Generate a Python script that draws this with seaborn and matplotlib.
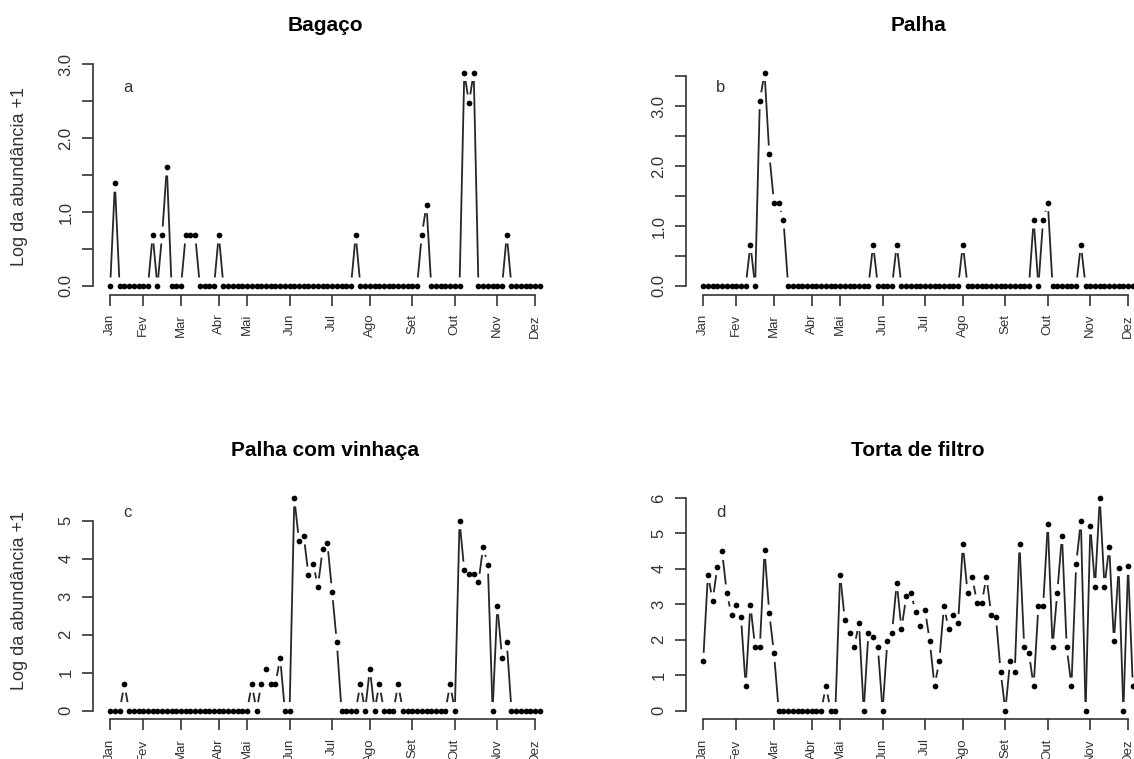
import numpy as np
import matplotlib
matplotlib.use("Agg")
import matplotlib.pyplot as plt
import seaborn as sns
from matplotlib.collections import LineCollection

# ---------------- data ----------------
months = ["Jan", "Fev", "Mar", "Abr", "Mai", "Jun", "Jul", "Ago", "Set", "Out", "Nov", "Dez"]
month_idx = [1, 8, 16, 24, 30, 39, 48, 56, 65, 74, 83, 91]

titles = ["Bagaço", "Palha", "Palha com vinhaça", "Torta de filtro"]
panel_letters = ["a", "b", "c", "d"]
ylabel = "Log da abundância +1"

bagaco = [0, 1.39, 0, 0, 0, 0, 0, 0, 0, 0.69,
          0, 0.69, 1.61, 0, 0, 0, 0.69, 0.69, 0.69, 0,
          0, 0, 0, 0.69, 0, 0, 0, 0, 0, 0,
          0, 0, 0, 0, 0, 0, 0, 0, 0, 0,
          0, 0, 0, 0, 0, 0, 0, 0, 0, 0,
          0, 0, 0.69, 0, 0, 0, 0, 0, 0, 0,
          0, 0, 0, 0, 0, 0, 0.69, 1.10, 0, 0,
          0, 0, 0, 0, 0, 2.89, 2.48, 2.89, 0, 0,
          0, 0, 0, 0, 0.69, 0, 0, 0, 0, 0,
          0, 0]

palha = [0, 0, 0, 0, 0, 0, 0, 0, 0, 0,
         0.69, 0, 3.09, 3.56, 2.20, 1.39, 1.39, 1.10, 0, 0,
         0, 0, 0, 0, 0, 0, 0, 0, 0, 0,
         0, 0, 0, 0, 0, 0, 0.69, 0, 0, 0,
         0, 0.69, 0, 0, 0, 0, 0, 0, 0, 0,
         0, 0, 0, 0, 0, 0.69, 0, 0, 0, 0,
         0, 0, 0, 0, 0, 0, 0, 0, 0, 0,
         1.10, 0, 1.10, 1.39, 0, 0, 0, 0, 0, 0,
         0.69, 0, 0, 0, 0, 0, 0, 0, 0, 0,
         0, 0]

palha_vinhaca = [0, 0, 0, 0.69, 0, 0, 0, 0, 0, 0,
                 0, 0, 0, 0, 0, 0, 0, 0, 0, 0,
                 0, 0, 0, 0, 0, 0, 0, 0, 0, 0,
                 0.69, 0, 0.69, 1.10, 0.69, 0.69, 1.39, 0, 0, 5.60,
                 4.46, 4.60, 3.57, 3.86, 3.26, 4.25, 4.42, 3.13, 1.80, 0,
                 0, 0, 0, 0.69, 0, 1.10, 0, 0.69, 0, 0,
                 0, 0.69, 0, 0, 0, 0, 0, 0, 0, 0,
                 0, 0, 0.69, 0, 5.00, 3.70, 3.60, 3.61, 3.38, 4.32,
                 3.83, 0, 2.76, 1.39, 1.80, 0, 0, 0, 0, 0,
                 0, 0]

torta = [1.39, 3.84, 3.10, 4.06, 4.49, 3.32, 2.70, 2.98, 2.64, 0.69,
         2.98, 1.79, 1.79, 4.52, 2.75, 1.61, 0, 0, 0, 0,
         0, 0, 0, 0, 0, 0, 0.69, 0, 0, 3.84,
         2.56, 2.20, 1.79, 2.48, 0, 2.20, 2.08, 1.79, 0, 1.95,
         2.20, 3.61, 2.30, 3.22, 3.33, 2.77, 2.40, 2.83, 1.95, 0.69,
         1.39, 2.94, 2.30, 2.71, 2.48, 4.69, 3.33, 3.76, 3.04, 3.04,
         3.78, 2.71, 2.64, 1.10, 0, 1.39, 1.10, 4.70, 1.79, 1.61,
         0.69, 2.94, 2.94, 5.28, 1.79, 3.33, 4.94, 1.79, 0.69, 4.14,
         5.35, 0, 5.21, 3.50, 6.00, 3.50, 4.62, 1.95, 4.03, 0,
         4.07, 0.69]

series = [bagaco, palha, palha_vinhaca, torta]
yticks_list = [
    [0, 0.5, 1.0, 1.5, 2.0, 2.5, 3.0],
    [0, 0.5, 1.0, 1.5, 2.0, 2.5, 3.0, 3.5],
    [0, 1, 2, 3, 4, 5],
    [0, 1, 2, 3, 4, 5, 6],
]
ylabels_list = [
    ["0.0", "", "1.0", "", "2.0", "", "3.0"],
    ["0.0", "", "1.0", "", "2.0", "", "3.0", ""],
    ["0", "1", "2", "3", "4", "5"],
    ["0", "1", "2", "3", "4", "5", "6"],
]

# ---------------- style ----------------
sns.set_theme(style="white")
plt.rcParams["font.family"] = ["Liberation Sans", "DejaVu Sans"]

W, H = 1134, 759
fig = plt.figure(figsize=(W / 100, H / 100), dpi=100)
fig.patch.set_facecolor("white")

ax_w = 464 / W
positions = [
    (93 / W, 1 - 294.5 / H, ax_w, 230.5 / H),
    (686 / W, 1 - 294.5 / H, ax_w, 230.5 / H),
    (93 / W, 1 - 719 / H, ax_w, 229.5 / H),
    (686 / W, 1 - 719 / H, ax_w, 229.5 / H),
]

GAP = 8.5  # pixels left free around each point (R type="b")
ink = "#262626"
axcol = "#333333"


def gapped_segments(ax, x, y, gap):
    pts = ax.transData.transform(np.column_stack([x, y]))
    inv = ax.transData.inverted()
    segs = []
    for i in range(len(pts) - 1):
        p0, p1 = pts[i], pts[i + 1]
        d = p1 - p0
        L = np.hypot(d[0], d[1])
        if L > 2 * gap:
            u = d / L
            a = p0 + u * gap
            b = p1 - u * gap
            segs.append(inv.transform(np.vstack([a, b])))
    return segs


for k in range(4):
    ax = fig.add_axes(positions[k])
    ax.set_facecolor("white")
    y = np.array(series[k], dtype=float)
    x = np.arange(1, len(y) + 1)
    n = len(y)
    xr = n - 1
    ax.set_xlim(1 - 0.04 * xr, n + 0.04 * xr)
    yr = y.max() - y.min()
    ax.set_ylim(y.min() - 0.04 * yr, y.max() + 0.04 * yr)

    segs = gapped_segments(ax, x, y, GAP)
    lc = LineCollection(segs, colors=ink, linewidths=1.3, capstyle="butt")
    ax.add_collection(lc)
    sns.scatterplot(x=x, y=y, ax=ax, color="black", s=17, linewidth=0,
                    edgecolor=None, zorder=3, legend=False)

    for s in ["top", "right"]:
        ax.spines[s].set_visible(False)
    for s in ["left", "bottom"]:
        ax.spines[s].set_visible(True)
        ax.spines[s].set_color(axcol)
        ax.spines[s].set_linewidth(1.2)
    ax.spines["left"].set_bounds(yticks_list[k][0], yticks_list[k][-1])
    ax.spines["bottom"].set_bounds(month_idx[0], month_idx[-1])

    ax.set_xticks(month_idx)
    ax.set_xticklabels(months, rotation=90, fontsize=9.5, color=axcol)
    ax.set_yticks(yticks_list[k])
    ax.set_yticklabels(ylabels_list[k], fontsize=12, color=axcol)
    for lbl in ax.get_yticklabels():
        lbl.set_rotation(90)
        lbl.set_va("center")
    ax.tick_params(axis="both", which="major", direction="out", length=8,
                   width=1.2, color=axcol, left=True, bottom=True)
    ax.tick_params(axis="x", pad=6)
    ax.tick_params(axis="y", pad=6)
    ax.set_xlabel("")
    ax.set_ylabel("")
    ax.grid(False)

    ax.set_title(titles[k], fontsize=15, fontweight="bold", pad=24, color="black")
    ax.text(0.075, 0.9, panel_letters[k], transform=ax.transAxes,
            fontsize=12, color=axcol, ha="center", va="center")

fig.text(20 / W, 1 - 176 / H, ylabel, rotation=90, ha="center", va="center",
         fontsize=13, color=axcol)
fig.text(20 / W, 1 - 601 / H, ylabel, rotation=90, ha="center", va="center",
         fontsize=13, color=axcol)

fig.savefig("out.png", dpi=100, facecolor="white")
